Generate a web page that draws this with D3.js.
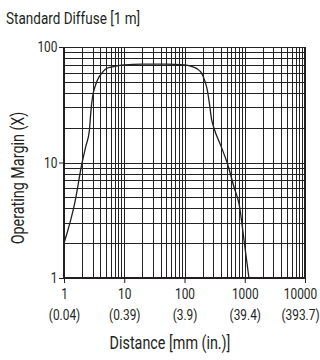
<!DOCTYPE html>
<html>
<head>
<meta charset="utf-8">
<script src="https://cdnjs.cloudflare.com/ajax/libs/d3/7.8.5/d3.min.js"></script>
<style>
  body { margin: 0; background: #fff; }
  text { font-family: "Roboto", "Liberation Sans", sans-serif; fill: #231f20; }
</style>
</head>
<body>
<div id="chart"></div>
<script>
var svgWidth = 320;
var svgHeight = 360;
var squeeze = "scale(0.82,1)"; // narrow the font like the condensed original

// data (distance in mm, operating margin)
var distance = [1, 1.5, 2.0, 2.3, 2.64, 2.8, 2.97, 3.3, 3.74, 4.2, 4.8, 6, 8, 10, 20, 50, 100, 130, 160, 190, 220, 240, 260, 280, 307, 400, 509, 665, 803, 1000, 1173];
var margin = [2.0, 4.4, 10, 13.8, 19, 28, 36.6, 46, 54, 59, 64, 67, 69, 70, 71, 71, 70, 68, 65, 60, 50, 42, 32, 24, 20, 14, 10, 6.1, 4.4, 1.9, 1];

var xTicks = [1, 10, 100, 1000, 10000];
var xTickInches = ["(0.04)", "(0.39)", "(3.9)", "(39.4)", "(393.7)"];
var yTicks = [1, 10, 100];

var svg = d3.select("#chart")
  .append("svg")
  .attr("width", svgWidth)
  .attr("height", svgHeight);

var x = d3.scaleLog().domain([1, 10000]).range([64, 305]);
var y = d3.scaleLog().domain([1, 100]).range([278, 47]);

// minor grid 1..9 per decade
var xGrid = [];
for (var d = 1; d < 10000; d *= 10) {
  for (var k = 1; k <= 9; k++) xGrid.push(d * k);
}
xGrid.push(10000);
var yGrid = [];
for (var d = 1; d < 100; d *= 10) {
  for (var k = 1; k <= 9; k++) yGrid.push(d * k);
}
yGrid.push(100);

var grid = svg.append("g").attr("stroke", "#222").attr("stroke-width", 1);
grid.selectAll(".vg")
  .data(xGrid)
  .enter()
  .append("line")
  .attr("x1", d => Math.round(x(d)) + 0.5)
  .attr("x2", d => Math.round(x(d)) + 0.5)
  .attr("y1", y(100))
  .attr("y2", y(1));
grid.selectAll(".hg")
  .data(yGrid)
  .enter()
  .append("line")
  .attr("y1", d => Math.round(y(d)) + 0.5)
  .attr("y2", d => Math.round(y(d)) + 0.5)
  .attr("x1", x(1))
  .attr("x2", x(10000));

// heavier frame: left, bottom, right
var frame = svg.append("g").attr("stroke", "#231f20").attr("stroke-width", 2);
frame.append("line").attr("x1", x(1)).attr("x2", x(1)).attr("y1", y(100)).attr("y2", y(1));
frame.append("line").attr("x1", x(1)).attr("x2", x(10000)).attr("y1", y(1)).attr("y2", y(1));
frame.append("line").attr("x1", x(10000)).attr("x2", x(10000)).attr("y1", y(100)).attr("y2", y(1));

// axes
var bottomAxis = d3.axisBottom(x).tickValues(xTicks).tickSize(5).tickSizeOuter(0).tickPadding(6).tickFormat(d3.format("d"));
var xAxis = svg.append("g")
  .attr("transform", `translate(0, ${y(1)})`)
  .call(bottomAxis);
xAxis.select(".domain").remove();
xAxis.selectAll("line").attr("stroke", "#231f20");
xAxis.selectAll("text")
  .style("font-size", "14.5px")
  .attr("fill", "#231f20")
  .attr("transform", (d, i) => i === xTicks.length - 1 ? "translate(-5,0) " + squeeze : squeeze)
  .each(function(d, i) {
    d3.select(this).append("tspan")
      .attr("x", 0)
      .attr("dy", "1.45em")
      .text(xTickInches[i]);
  });

var leftAxis = d3.axisLeft(y).tickValues(yTicks).tickSize(5).tickSizeOuter(0).tickPadding(3).tickFormat(d3.format("d"));
var yAxis = svg.append("g")
  .attr("transform", `translate(${x(1)}, 0)`)
  .call(leftAxis);
yAxis.select(".domain").remove();
yAxis.selectAll("line").attr("stroke", "#231f20");
yAxis.selectAll("text").style("font-size", "14.5px").attr("fill", "#231f20").attr("transform", squeeze);

// curve
var line = d3.line()
  .x((d, i) => x(distance[i]))
  .y(d => y(d))
  .curve(d3.curveMonotoneX);
svg.append("path")
  .datum(margin)
  .attr("fill", "none")
  .attr("stroke", "#231f20")
  .attr("stroke-width", 1.3)
  .attr("d", line);

// titles
svg.append("g")
  .attr("transform", "translate(6, 24)")
  .append("text")
  .attr("transform", squeeze)
  .style("font-size", "16.5px")
  .text("Standard Diffuse [1 m]");

svg.append("g")
  .attr("transform", "translate(170, 349)")
  .append("text")
  .attr("transform", squeeze)
  .attr("text-anchor", "middle")
  .style("font-size", "17.5px")
  .text("Distance [mm (in.)]");

svg.append("g")
  .attr("transform", "translate(24, 178) rotate(-90)")
  .append("text")
  .attr("transform", squeeze)
  .attr("text-anchor", "middle")
  .style("font-size", "17.5px")
  .text("Operating Margin (X)");
</script>
</body>
</html>
